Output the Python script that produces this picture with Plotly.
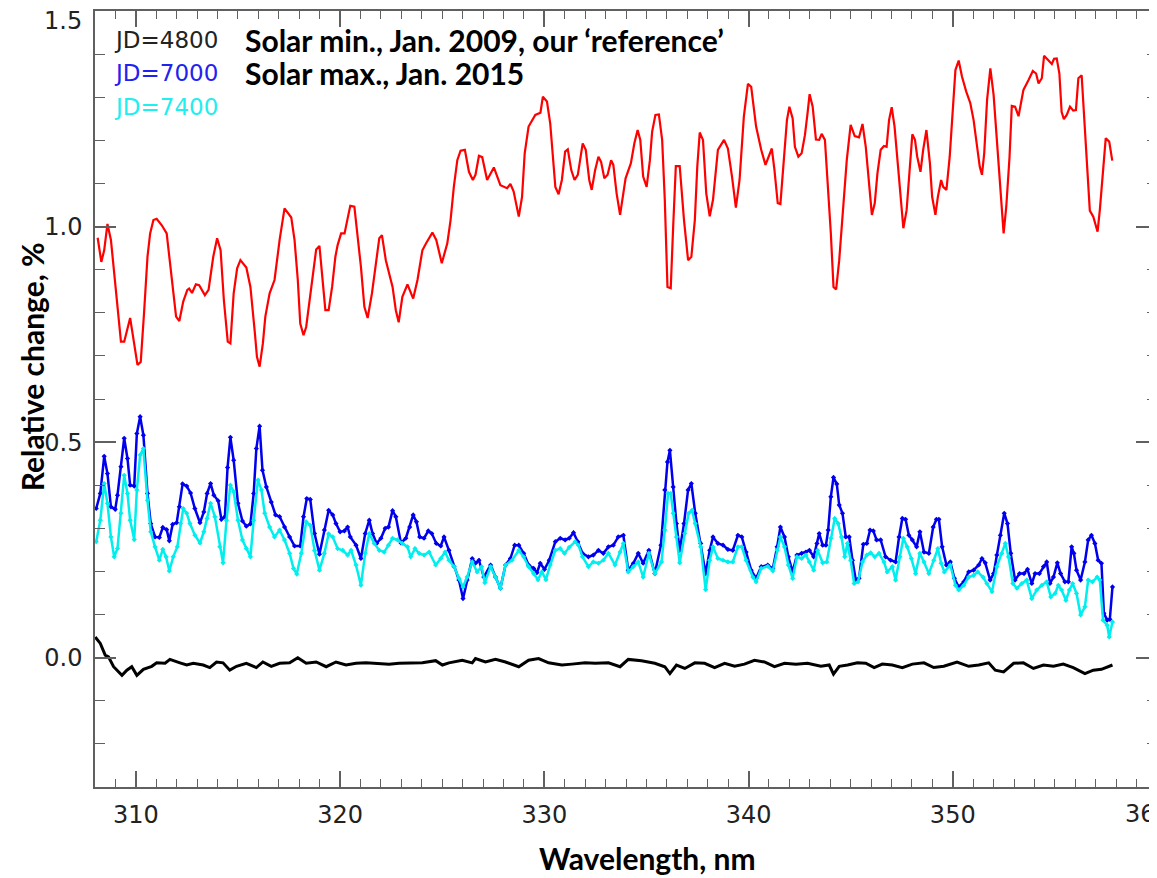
import plotly.graph_objects as go

# ---------------- data ----------------
# JD=4800 reference (black)
wl_4800 = [308.01, 308.26, 308.50, 308.66, 308.91, 309.32, 309.56, 309.80, 310.05, 310.37,
           310.78, 311.02, 311.43, 311.67, 312.16, 312.49, 312.81, 313.30, 313.62, 313.95,
           314.27, 314.60, 314.93, 315.41, 315.90, 316.22, 316.63, 317.04, 317.53, 317.93,
           318.34, 318.83, 319.32, 319.80, 320.29, 320.78, 321.27, 321.76, 322.40, 322.89,
           323.38, 324.03, 324.68, 325.01, 325.33, 325.98, 326.47, 326.63, 327.12, 327.61,
           328.10, 328.75, 329.23, 329.72, 330.21, 330.86, 331.35, 332.00, 332.49, 333.14,
           333.71, 334.11, 334.76, 335.41, 335.90, 336.15, 336.47, 336.88, 337.37, 337.85,
           338.34, 338.83, 339.32, 339.80, 340.29, 340.78, 341.27, 341.76, 342.32, 342.89,
           343.54, 343.95, 344.16, 344.44, 344.85, 345.33, 345.74, 346.15, 346.55, 347.04,
           347.53, 348.02, 348.59, 349.07, 349.56, 350.21, 350.78, 351.27, 351.76, 352.08,
           352.49, 352.98, 353.46, 353.95, 354.44, 354.93, 355.41, 355.90, 356.47, 356.88,
           357.28, 357.61, 357.82]
rel_4800 = [0.048, 0.033, 0.006, 0.002, -0.021, -0.041, -0.029, -0.021, -0.041, -0.027,
            -0.020, -0.012, -0.013, -0.004, -0.012, -0.017, -0.013, -0.017, -0.023, -0.010,
            -0.012, -0.029, -0.020, -0.013, -0.023, -0.010, -0.020, -0.013, -0.012, 0.000,
            -0.013, -0.010, -0.021, -0.010, -0.017, -0.013, -0.012, -0.013, -0.015, -0.013,
            -0.012, -0.012, -0.007, -0.017, -0.012, -0.006, -0.012, -0.002, -0.010, -0.004,
            -0.010, -0.021, -0.006, -0.002, -0.012, -0.017, -0.015, -0.012, -0.013, -0.012,
            -0.021, -0.004, -0.007, -0.013, -0.021, -0.037, -0.017, -0.025, -0.012, -0.013,
            -0.023, -0.013, -0.020, -0.015, -0.006, -0.010, -0.021, -0.013, -0.015, -0.013,
            -0.020, -0.017, -0.038, -0.020, -0.017, -0.012, -0.013, -0.023, -0.015, -0.017,
            -0.023, -0.015, -0.012, -0.023, -0.020, -0.010, -0.020, -0.017, -0.012, -0.029,
            -0.033, -0.013, -0.012, -0.025, -0.017, -0.020, -0.015, -0.023, -0.037, -0.029,
            -0.027, -0.020, -0.017]

# JD=7000 solar max (blue)
wl_7000 = [308.06, 308.26, 308.45, 308.61, 308.78, 308.99, 309.10, 309.27, 309.43, 309.59,
           309.72, 309.92, 310.05, 310.21, 310.37, 310.57, 310.73, 310.94, 311.15, 311.32,
           311.51, 311.64, 311.80, 312.00, 312.13, 312.29, 312.49, 312.68, 312.89, 313.14,
           313.33, 313.49, 313.66, 313.82, 314.03, 314.19, 314.36, 314.49, 314.63, 314.79,
           315.00, 315.22, 315.41, 315.61, 315.77, 315.90, 316.06, 316.20, 316.39, 316.63,
           316.84, 317.04, 317.28, 317.53, 317.77, 318.05, 318.21, 318.37, 318.54, 318.75,
           318.99, 319.23, 319.44, 319.64, 319.80, 320.00, 320.21, 320.37, 320.50, 320.78,
           321.02, 321.23, 321.43, 321.59, 321.79, 322.00, 322.21, 322.37, 322.57, 322.73,
           322.98, 323.22, 323.41, 323.58, 323.74, 323.90, 324.11, 324.32, 324.49, 324.71,
           324.93, 325.09, 325.33, 325.58, 325.82, 326.02, 326.22, 326.47, 326.63, 326.80,
           327.04, 327.37, 327.61, 327.85, 328.10, 328.34, 328.55, 328.75, 328.99, 329.23,
           329.48, 329.64, 329.80, 330.01, 330.24, 330.54, 330.78, 331.02, 331.22, 331.43,
           331.64, 331.87, 332.16, 332.40, 332.65, 332.89, 333.14, 333.38, 333.62, 333.87,
           334.11, 334.36, 334.60, 334.84, 335.12, 335.41, 335.71, 335.90, 336.03, 336.15,
           336.31, 336.47, 336.63, 336.84, 337.04, 337.20, 337.39, 337.66, 337.90, 338.10,
           338.26, 338.50, 338.75, 338.99, 339.23, 339.48, 339.67, 339.88, 340.13, 340.37,
           340.62, 340.94, 341.19, 341.40, 341.56, 341.76, 341.95, 342.16, 342.37, 342.60,
           342.81, 342.98, 343.19, 343.35, 343.46, 343.63, 343.79, 343.90, 344.03, 344.16,
           344.32, 344.44, 344.60, 344.76, 344.93, 345.09, 345.25, 345.41, 345.62, 345.79,
           345.95, 346.11, 346.27, 346.47, 346.71, 346.96, 347.20, 347.37, 347.53, 347.69,
           347.85, 348.02, 348.23, 348.39, 348.59, 348.83, 349.04, 349.20, 349.32, 349.48,
           349.69, 349.88, 350.08, 350.29, 350.54, 350.78, 351.02, 351.27, 351.43, 351.59,
           351.83, 352.00, 352.16, 352.33, 352.52, 352.68, 352.84, 353.05, 353.27, 353.49,
           353.66, 353.87, 354.03, 354.24, 354.44, 354.60, 354.76, 354.93, 355.12, 355.28,
           355.49, 355.66, 355.82, 355.93, 356.06, 356.26, 356.47, 356.63, 356.79, 356.96,
           357.12, 357.28, 357.40, 357.56, 357.69, 357.82]
rel_7000 = [0.346, 0.381, 0.467, 0.427, 0.350, 0.344, 0.377, 0.443, 0.509, 0.462,
            0.400, 0.398, 0.520, 0.559, 0.516, 0.381, 0.311, 0.280, 0.279, 0.302,
            0.297, 0.271, 0.309, 0.313, 0.350, 0.403, 0.398, 0.382, 0.346, 0.313,
            0.338, 0.381, 0.404, 0.377, 0.364, 0.321, 0.327, 0.441, 0.511, 0.458,
            0.358, 0.317, 0.305, 0.310, 0.381, 0.485, 0.537, 0.435, 0.396, 0.361,
            0.331, 0.327, 0.303, 0.280, 0.259, 0.259, 0.327, 0.369, 0.367, 0.288,
            0.240, 0.296, 0.342, 0.331, 0.311, 0.292, 0.294, 0.303, 0.280, 0.261,
            0.230, 0.288, 0.319, 0.288, 0.265, 0.277, 0.300, 0.303, 0.341, 0.327,
            0.266, 0.277, 0.303, 0.331, 0.315, 0.280, 0.277, 0.294, 0.288, 0.265,
            0.259, 0.280, 0.249, 0.211, 0.180, 0.137, 0.180, 0.230, 0.219, 0.226,
            0.187, 0.215, 0.187, 0.161, 0.215, 0.230, 0.261, 0.261, 0.242, 0.215,
            0.207, 0.197, 0.219, 0.205, 0.226, 0.269, 0.277, 0.273, 0.277, 0.290,
            0.269, 0.242, 0.234, 0.238, 0.249, 0.242, 0.257, 0.261, 0.280, 0.284,
            0.203, 0.219, 0.242, 0.219, 0.249, 0.195, 0.261, 0.389, 0.454, 0.481,
            0.396, 0.311, 0.249, 0.311, 0.389, 0.404, 0.335, 0.265, 0.195, 0.249,
            0.280, 0.265, 0.261, 0.251, 0.249, 0.284, 0.280, 0.245, 0.203, 0.184,
            0.211, 0.215, 0.207, 0.257, 0.303, 0.280, 0.234, 0.199, 0.238, 0.242,
            0.245, 0.249, 0.234, 0.265, 0.288, 0.261, 0.261, 0.296, 0.373, 0.418,
            0.403, 0.354, 0.335, 0.280, 0.280, 0.226, 0.181, 0.184, 0.263, 0.265,
            0.296, 0.294, 0.273, 0.273, 0.234, 0.226, 0.222, 0.280, 0.323, 0.321,
            0.284, 0.273, 0.257, 0.292, 0.245, 0.242, 0.303, 0.321, 0.321, 0.257,
            0.215, 0.222, 0.184, 0.164, 0.176, 0.199, 0.203, 0.215, 0.230, 0.220,
            0.180, 0.195, 0.238, 0.284, 0.335, 0.311, 0.242, 0.180, 0.195, 0.195,
            0.205, 0.172, 0.195, 0.195, 0.211, 0.222, 0.172, 0.187, 0.220, 0.195,
            0.176, 0.176, 0.257, 0.242, 0.203, 0.180, 0.222, 0.273, 0.284, 0.265,
            0.226, 0.219, 0.103, 0.087, 0.089, 0.164]

# JD=7400 (cyan)
wl_7400 = [308.06, 308.26, 308.45, 308.61, 308.78, 308.94, 309.10, 309.27, 309.43, 309.59,
           309.72, 309.92, 310.05, 310.21, 310.37, 310.57, 310.73, 310.94, 311.15, 311.32,
           311.48, 311.64, 311.83, 312.03, 312.19, 312.32, 312.49, 312.65, 312.89, 313.14,
           313.33, 313.49, 313.66, 313.87, 314.11, 314.27, 314.44, 314.63, 314.79, 315.00,
           315.22, 315.41, 315.61, 315.77, 315.98, 316.15, 316.31, 316.55, 316.79, 317.04,
           317.28, 317.53, 317.72, 317.88, 318.10, 318.34, 318.54, 318.75, 318.99, 319.23,
           319.44, 319.64, 319.88, 320.13, 320.37, 320.54, 320.78, 321.02, 321.23, 321.43,
           321.67, 321.92, 322.16, 322.37, 322.57, 322.81, 323.05, 323.30, 323.46, 323.67,
           323.87, 324.11, 324.36, 324.68, 324.93, 325.14, 325.33, 325.58, 325.82, 326.02,
           326.22, 326.47, 326.71, 326.93, 327.09, 327.37, 327.61, 327.85, 328.10, 328.42,
           328.75, 328.99, 329.23, 329.48, 329.69, 329.88, 330.08, 330.29, 330.54, 330.78,
           330.99, 331.22, 331.51, 331.67, 331.87, 332.16, 332.40, 332.65, 332.89, 333.14,
           333.46, 333.71, 333.87, 334.11, 334.36, 334.60, 334.84, 335.12, 335.41, 335.74,
           335.90, 336.06, 336.19, 336.31, 336.47, 336.63, 336.88, 337.07, 337.23, 337.39,
           337.66, 337.90, 338.10, 338.26, 338.50, 338.75, 338.99, 339.23, 339.48, 339.67,
           339.88, 340.21, 340.37, 340.62, 340.94, 341.19, 341.40, 341.56, 341.76, 341.95,
           342.16, 342.37, 342.60, 342.81, 342.98, 343.19, 343.38, 343.63, 343.83, 344.03,
           344.22, 344.39, 344.55, 344.71, 344.84, 345.00, 345.17, 345.36, 345.58, 345.79,
           345.98, 346.18, 346.39, 346.63, 346.79, 347.04, 347.20, 347.41, 347.58, 347.77,
           347.97, 348.18, 348.39, 348.59, 348.83, 349.07, 349.27, 349.43, 349.59, 349.88,
           350.13, 350.29, 350.54, 350.78, 351.02, 351.22, 351.48, 351.67, 351.92, 352.16,
           352.40, 352.57, 352.73, 352.94, 353.14, 353.38, 353.62, 353.87, 354.11, 354.36,
           354.60, 354.80, 355.01, 355.17, 355.33, 355.54, 355.71, 355.87, 356.06, 356.26,
           356.47, 356.63, 356.84, 357.07, 357.20, 357.36, 357.56, 357.66, 357.82]
rel_7400 = [0.269, 0.319, 0.404, 0.358, 0.280, 0.234, 0.253, 0.335, 0.423, 0.381,
            0.319, 0.274, 0.389, 0.470, 0.485, 0.365, 0.292, 0.257, 0.226, 0.251,
            0.234, 0.201, 0.234, 0.257, 0.311, 0.346, 0.335, 0.311, 0.284, 0.266,
            0.292, 0.323, 0.358, 0.327, 0.257, 0.220, 0.319, 0.400, 0.385, 0.319,
            0.273, 0.253, 0.234, 0.319, 0.412, 0.389, 0.335, 0.303, 0.280, 0.296,
            0.273, 0.242, 0.207, 0.194, 0.242, 0.315, 0.307, 0.249, 0.203, 0.242,
            0.287, 0.280, 0.253, 0.249, 0.238, 0.249, 0.215, 0.168, 0.242, 0.288,
            0.265, 0.249, 0.245, 0.261, 0.277, 0.273, 0.265, 0.257, 0.234, 0.253,
            0.242, 0.238, 0.245, 0.215, 0.230, 0.245, 0.226, 0.211, 0.184, 0.164,
            0.187, 0.222, 0.199, 0.211, 0.174, 0.211, 0.187, 0.161, 0.215, 0.226,
            0.249, 0.234, 0.211, 0.195, 0.181, 0.199, 0.181, 0.215, 0.249, 0.253,
            0.242, 0.256, 0.269, 0.261, 0.234, 0.211, 0.222, 0.219, 0.226, 0.242,
            0.215, 0.245, 0.265, 0.199, 0.211, 0.222, 0.187, 0.242, 0.195, 0.222,
            0.296, 0.381, 0.381, 0.335, 0.280, 0.220, 0.288, 0.335, 0.342, 0.311,
            0.257, 0.158, 0.226, 0.257, 0.230, 0.226, 0.222, 0.222, 0.257, 0.257,
            0.226, 0.187, 0.176, 0.207, 0.212, 0.201, 0.249, 0.280, 0.257, 0.215,
            0.184, 0.234, 0.230, 0.238, 0.222, 0.203, 0.249, 0.220, 0.222, 0.277,
            0.323, 0.311, 0.280, 0.234, 0.265, 0.226, 0.172, 0.176, 0.222, 0.238,
            0.243, 0.234, 0.242, 0.222, 0.199, 0.211, 0.180, 0.234, 0.277, 0.257,
            0.230, 0.195, 0.242, 0.222, 0.195, 0.226, 0.253, 0.219, 0.199, 0.215,
            0.168, 0.157, 0.168, 0.187, 0.191, 0.199, 0.187, 0.172, 0.153, 0.211,
            0.242, 0.265, 0.234, 0.172, 0.161, 0.172, 0.180, 0.137, 0.157, 0.168,
            0.176, 0.141, 0.149, 0.168, 0.157, 0.133, 0.157, 0.172, 0.149, 0.099,
            0.118, 0.180, 0.176, 0.187, 0.180, 0.087, 0.075, 0.048, 0.083]

# red curve
wl_red = [308.13, 308.31, 308.45, 308.61, 308.78, 308.99, 309.27, 309.43, 309.72, 310.08,
          310.24, 310.40, 310.57, 310.70, 310.86, 311.02, 311.27, 311.51, 311.76, 311.97,
          312.13, 312.32, 312.52, 312.61, 312.75, 312.94, 313.10, 313.38, 313.56, 313.79,
          313.98, 314.15, 314.31, 314.50, 314.63, 314.79, 314.96, 315.12, 315.41, 315.61,
          315.83, 315.93, 316.06, 316.22, 316.34, 316.55, 316.79, 317.04, 317.28, 317.44,
          317.61, 317.77, 317.93, 318.05, 318.21, 318.34, 318.50, 318.83, 318.99, 319.15,
          319.28, 319.44, 319.61, 319.77, 319.88, 320.05, 320.22, 320.37, 320.50, 320.70,
          320.81, 321.02, 321.19, 321.35, 321.56, 321.76, 321.92, 322.05, 322.24, 322.57,
          322.73, 322.87, 323.05, 323.30, 323.58, 323.79, 324.03, 324.22, 324.52, 324.71,
          324.98, 325.25, 325.41, 325.57, 325.74, 325.90, 326.11, 326.31, 326.50, 326.63,
          326.80, 326.96, 327.20, 327.53, 327.85, 328.18, 328.34, 328.50, 328.75, 328.91,
          329.04, 329.23, 329.56, 329.81, 329.93, 330.13, 330.29, 330.54, 330.70, 330.86,
          331.02, 331.15, 331.32, 331.48, 331.64, 331.88, 332.03, 332.20, 332.32, 332.49,
          332.65, 332.78, 332.94, 333.10, 333.27, 333.38, 333.54, 333.71, 333.82, 333.98,
          334.24, 334.41, 334.57, 334.70, 334.84, 335.01, 335.17, 335.28, 335.44, 335.61,
          335.77, 335.90, 336.03, 336.19, 336.31, 336.44, 336.63, 336.84, 337.04, 337.20,
          337.37, 337.49, 337.61, 337.77, 337.93, 338.10, 338.26, 338.50, 338.80, 338.99,
          339.19, 339.38, 339.56, 339.77, 339.97, 340.13, 340.37, 340.62, 340.83, 340.98,
          341.14, 341.27, 341.43, 341.56, 341.76, 341.88, 342.00, 342.16, 342.27, 342.44,
          342.60, 342.76, 342.89, 342.99, 343.14, 343.30, 343.46, 343.58, 343.74, 343.90,
          344.03, 344.16, 344.29, 344.44, 344.65, 344.81, 345.00, 345.20, 345.41, 345.58,
          345.74, 345.87, 346.04, 346.18, 346.31, 346.47, 346.63, 346.76, 346.88, 347.01,
          347.15, 347.32, 347.45, 347.58, 347.74, 347.90, 348.02, 348.15, 348.26, 348.42,
          348.55, 348.71, 348.88, 348.99, 349.15, 349.27, 349.43, 349.53, 349.69, 349.85,
          350.01, 350.13, 350.29, 350.45, 350.66, 350.86, 351.02, 351.19, 351.32, 351.43,
          351.54, 351.68, 351.84, 352.00, 352.16, 352.33, 352.49, 352.62, 352.78, 352.89,
          353.05, 353.22, 353.46, 353.71, 353.92, 354.08, 354.20, 354.36, 354.47, 354.69,
          354.85, 354.96, 355.09, 355.22, 355.33, 355.44, 355.58, 355.74, 355.90, 356.03,
          356.15, 356.31, 356.47, 356.59, 356.71, 356.88, 357.09, 357.20, 357.33, 357.49,
          357.66, 357.81]
rel_red = [0.974, 0.918, 0.945, 1.006, 0.969, 0.860, 0.733, 0.733, 0.788, 0.679,
           0.686, 0.799, 0.930, 0.984, 1.015, 1.018, 1.003, 0.984, 0.884, 0.791,
           0.781, 0.826, 0.853, 0.856, 0.846, 0.866, 0.864, 0.841, 0.853, 0.930,
           0.973, 0.945, 0.829, 0.733, 0.729, 0.845, 0.903, 0.922, 0.905, 0.860,
           0.752, 0.698, 0.675, 0.729, 0.791, 0.845, 0.876, 0.969, 1.042, 1.031,
           1.021, 0.969, 0.876, 0.775, 0.748, 0.767, 0.829, 0.947, 0.955, 0.876,
           0.806, 0.806, 0.860, 0.930, 0.957, 0.984, 0.984, 1.019, 1.048, 1.046,
           1.000, 0.907, 0.814, 0.788, 0.845, 0.922, 0.973, 0.980, 0.922, 0.860,
           0.806, 0.778, 0.837, 0.866, 0.833, 0.876, 0.945, 0.962, 0.986, 0.969,
           0.915, 0.961, 1.015, 1.092, 1.154, 1.176, 1.178, 1.127, 1.108, 1.120,
           1.164, 1.161, 1.108, 1.137, 1.096, 1.089, 1.099, 1.081, 1.023, 1.069,
           1.170, 1.232, 1.259, 1.264, 1.301, 1.290, 1.239, 1.092, 1.075, 1.108,
           1.174, 1.179, 1.131, 1.108, 1.120, 1.193, 1.178, 1.108, 1.085, 1.131,
           1.162, 1.150, 1.112, 1.120, 1.154, 1.143, 1.077, 1.027, 1.062, 1.112,
           1.147, 1.193, 1.224, 1.201, 1.116, 1.092, 1.154, 1.220, 1.259, 1.260,
           1.201, 1.062, 0.860, 0.857, 1.000, 1.140, 1.140, 1.015, 0.922, 0.930,
           1.015, 1.139, 1.218, 1.201, 1.077, 1.024, 1.062, 1.178, 1.201, 1.181,
           1.116, 1.044, 1.108, 1.255, 1.331, 1.324, 1.232, 1.178, 1.143, 1.162,
           1.181, 1.131, 1.054, 1.052, 1.170, 1.247, 1.278, 1.251, 1.185, 1.162,
           1.170, 1.212, 1.263, 1.307, 1.278, 1.202, 1.201, 1.215, 1.201, 1.092,
           0.984, 0.860, 0.854, 0.922, 1.054, 1.154, 1.236, 1.210, 1.207, 1.238,
           1.185, 1.120, 1.027, 1.054, 1.123, 1.178, 1.187, 1.185, 1.247, 1.277,
           1.232, 1.139, 1.062, 0.996, 1.038, 1.139, 1.214, 1.201, 1.162, 1.127,
           1.178, 1.224, 1.147, 1.069, 1.027, 1.069, 1.108, 1.092, 1.085, 1.162,
           1.286, 1.363, 1.385, 1.348, 1.313, 1.286, 1.247, 1.185, 1.139, 1.120,
           1.170, 1.294, 1.367, 1.305, 1.201, 1.100, 0.984, 1.046, 1.162, 1.280,
           1.278, 1.256, 1.317, 1.340, 1.361, 1.355, 1.332, 1.344, 1.396, 1.385,
           1.377, 1.389, 1.390, 1.355, 1.266, 1.249, 1.259, 1.278, 1.269, 1.270,
           1.344, 1.351, 1.232, 1.123, 1.037, 1.023, 0.988, 1.038, 1.123, 1.205,
           1.197, 1.153]

x_tickvals = [310, 320, 330, 340, 350, 360]
x_ticktext = ["310", "320", "330", "340", "350", ""]   # last label drawn separately, cut at the edge
y_tickvals = [0.0, 0.5, 1.0, 1.5]
y_ticktext = ["0.0", "0.5", "1.0", ""]                  # "1.5" drawn just below its tick

legend_labels = ["JD=4800", "JD=7000", "JD=7400"]
legend_notes = ["Solar min., Jan. 2009, our \u2018reference\u2019", "Solar max., Jan. 2015", ""]
legend_colors = ["#222222", "#2222ee", "#22eeee"]

# ---------------- figure ----------------
fig = go.Figure()
fig.add_trace(go.Scatter(x=wl_4800, y=rel_4800, mode="lines",
                         line=dict(color="#000000", width=3), name="JD=4800"))
fig.add_trace(go.Scatter(x=wl_red, y=rel_red, mode="lines",
                         line=dict(color="#ff0000", width=2.2), name="ratio"))
fig.add_trace(go.Scatter(x=wl_7000, y=rel_7000, mode="lines+markers",
                         line=dict(color="#0000ee", width=2.5),
                         marker=dict(symbol="diamond", size=4, color="#0000ee"), name="JD=7000"))
fig.add_trace(go.Scatter(x=wl_7400, y=rel_7400, mode="lines+markers",
                         line=dict(color="#00eeee", width=2.5),
                         marker=dict(symbol="diamond", size=4, color="#00eeee"), name="JD=7400"))

axcol = "#606060"
tickfont = dict(family="DejaVu Sans", size=24, color="#222222")
titlefont = dict(family="Lato", size=30, color="#000000")

fig.update_xaxes(range=[308, 360], tickmode="array", tickvals=x_tickvals, ticktext=x_ticktext,
                 ticks="inside", ticklen=16,
                 tickwidth=1.5, tickcolor=axcol, showline=True, linecolor=axcol, linewidth=1.5,
                 mirror="ticks", showgrid=False, zeroline=False, tickfont=tickfont,
                 ticklabeloverflow="allow", ticklabelstandoff=5, automargin=False,
                 minor=dict(tick0=308, dtick=1, ticks="inside", ticklen=8, tickwidth=1.2,
                            tickcolor=axcol))
fig.update_yaxes(range=[-0.3, 1.5], tickmode="array", tickvals=y_tickvals, ticktext=y_ticktext,
                 ticks="inside",
                 ticklen=21, tickwidth=1.5, tickcolor=axcol, showline=True, linecolor=axcol,
                 linewidth=1.5, mirror="ticks", showgrid=False, zeroline=False, tickfont=tickfont,
                 ticklabelstandoff=6, ticklabeloverflow="allow", automargin=False,
                 minor=dict(tick0=0, dtick=0.1, ticks="inside", ticklen=10, tickwidth=1.2,
                            tickcolor=axcol))

# tick labels that sit at the very edges of the figure
fig.add_annotation(xref="paper", yref="paper", x=-0.0104, y=0.987, text="1.5", showarrow=False,
                   xanchor="right", yanchor="middle", font=tickfont)
fig.add_annotation(xref="paper", yref="paper", x=1.0, y=-0.0348, text="36", showarrow=False,
                   xanchor="right", yanchor="middle", font=tickfont, borderpad=0)

# axis titles
fig.add_annotation(xref="paper", yref="paper", x=-0.0593, y=0.541, text="<b>Relative change, %</b>",
                   textangle=-90, showarrow=False, xanchor="center", yanchor="middle",
                   font=titlefont)
fig.add_annotation(xref="paper", yref="paper", x=0.5207, y=-0.0915, text="<b>Wavelength, nm</b>",
                   showarrow=False, xanchor="center", yanchor="middle", font=titlefont)

ys = [0.9626, 0.920, 0.876]
for lab, note, col, yy in zip(legend_labels, legend_notes, legend_colors, ys):
    fig.add_annotation(xref="paper", yref="paper", x=0.016, y=yy, text=lab, showarrow=False,
                       xanchor="left", yanchor="middle",
                       font=dict(family="DejaVu Sans", size=23, color=col))
    if note:
        fig.add_annotation(xref="paper", yref="paper", x=0.1394, y=yy, text="<b>" + note + "</b>",
                           showarrow=False, xanchor="left", yanchor="middle",
                           font=dict(family="Lato", size=30, color="#000000"))

# the page body has an 8px margin, so the figure is sized/offset to put the plot area
# at x 95..1157, y 11..787 of the browser window
fig.update_layout(template="none", width=1149, height=870,
                  margin=dict(l=87, r=0, t=3, b=91, autoexpand=False),
                  plot_bgcolor="white", paper_bgcolor="white", showlegend=False)

fig.write_html("out.html")
